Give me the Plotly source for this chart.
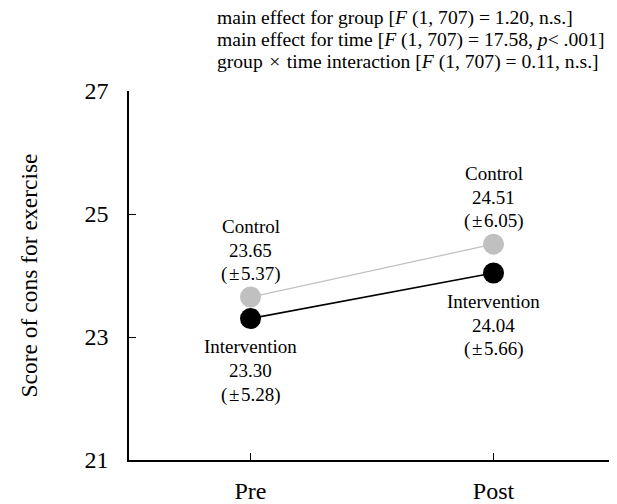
import plotly.graph_objects as go

# ---- data ----
times = ["Pre", "Post"]
groups = ["Control", "Intervention"]
control_mean = [23.65, 24.51]
control_sd = [5.37, 6.05]
intervention_mean = [23.30, 24.04]
intervention_sd = [5.28, 5.66]
y_ticks = [21, 23, 25, 27]
stats_lines = [
    "main effect for group [<i>F</i> (1, 707) = 1.20, n.s.]",
    "main effect for time [<i>F</i> (1, 707) = 17.58, <i>p</i>< .001]",
    "group \u200a\u00d7\u200a time interaction [<i>F</i> (1, 707) = 0.11, n.s.]",
]
y_title = "Score of cons for exercise"

FONT = "Liberation Serif, Times New Roman, serif"
x_idx = list(range(len(times)))

fig = go.Figure()
fig.add_trace(go.Scatter(
    x=x_idx, y=control_mean, mode="lines+markers", name=groups[0],
    line=dict(color="#bfbfbf", width=1.2),
    marker=dict(color="#c0c0c0", size=21),
    hoverinfo="skip", showlegend=False,
))
fig.add_trace(go.Scatter(
    x=x_idx, y=intervention_mean, mode="lines+markers", name=groups[1],
    line=dict(color="#000000", width=1.6),
    marker=dict(color="#000000", size=21),
    hoverinfo="skip", showlegend=False,
))

annotations = []
# data labels, one annotation per line for tight line spacing
ctrl_offsets = [71, 47, 23]
int_offsets = [-28, -52, -76]
for i in x_idx:
    lines = [groups[0], f"{control_mean[i]:.2f}", f"(\u200a\u00b1\u200a{control_sd[i]:.2f})"]
    for ln, off in zip(lines, ctrl_offsets):
        annotations.append(dict(x=i, y=control_mean[i], xref="x", yref="y", text=ln,
                                showarrow=False, yshift=off, xanchor="center", yanchor="middle",
                                font=dict(family=FONT, size=19, color="black")))
    lines = [groups[1], f"{intervention_mean[i]:.2f}", f"(\u200a\u00b1\u200a{intervention_sd[i]:.2f})"]
    for ln, off in zip(lines, int_offsets):
        annotations.append(dict(x=i, y=intervention_mean[i], xref="x", yref="y", text=ln,
                                showarrow=False, yshift=off, xanchor="center", yanchor="middle",
                                font=dict(family=FONT, size=19, color="black")))

# statistics text block
stat_y = [1.197, 1.138, 1.079]
for ln, yy in zip(stats_lines, stat_y):
    annotations.append(dict(x=0.179, y=yy, xref="paper", yref="paper", text=ln,
                            showarrow=False, xanchor="left", yanchor="middle",
                            borderpad=0,
                            font=dict(family=FONT, size=19.6, color="black")))

# the page body adds an 8px margin; the figure is sized/offset to compensate
fig.update_layout(
    template="none",
    width=609, height=496,
    margin=dict(l=121, r=2, t=83, b=44, autoexpand=False),
    paper_bgcolor="white", plot_bgcolor="white",
    font=dict(family=FONT, color="black"),
    annotations=annotations,
    xaxis=dict(
        automargin=False,
        range=[-0.5, 1.5], tickvals=x_idx, ticktext=times,
        showline=True, linecolor="black", linewidth=1.5,
        ticks="inside", ticklen=7, tickwidth=1.2, tickcolor="black",
        showgrid=False, zeroline=False,
        tickfont=dict(family=FONT, size=24, color="black"),
        ticklabelstandoff=8,
    ),
    yaxis=dict(
        automargin=False,
        range=[21, 27], tickvals=y_ticks,
        showline=True, linecolor="black", linewidth=1.5,
        ticks="inside", ticklen=7, tickwidth=1.2, tickcolor="black",
        showgrid=False, zeroline=False,
        tickfont=dict(family=FONT, size=24, color="black"),
        ticklabelstandoff=14,
        title=dict(text=y_title, font=dict(family=FONT, size=23.5, color="black"), standoff=40),
    ),
)

fig.write_html("out.html")
